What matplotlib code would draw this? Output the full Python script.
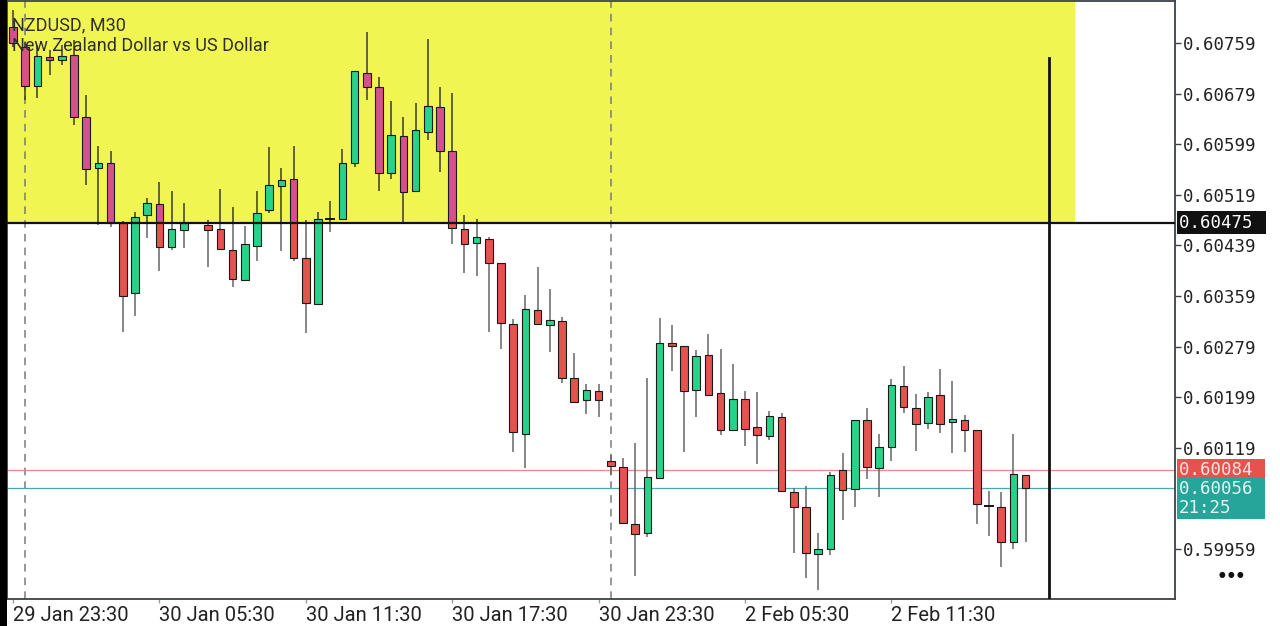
import matplotlib
matplotlib.use('Agg')
import matplotlib.pyplot as plt
from matplotlib.patches import Rectangle
from matplotlib.transforms import blended_transform_factory
import numpy as np
import pandas as pd

# NZDUSD M30 bars, 29 Jan 23:30 -> 30 Jan 23:30, then 2 Feb 00:00 -> 17:00
times = list(pd.date_range('2026-01-29 23:30', '2026-01-30 23:30', freq='30min')) + \
        list(pd.date_range('2026-02-02 00:00', periods=35, freq='30min'))

opens = [0.60784, 0.60753, 0.60691, 0.60737, 0.60732, 0.60740, 0.60642, 0.60561, 0.60569, 0.60475,
         0.60364, 0.60487, 0.60505, 0.60437, 0.60463, 0.60475, 0.60471, 0.60465, 0.60432, 0.60384,
         0.60438, 0.60495, 0.60533, 0.60544, 0.60419, 0.60346, 0.60481, 0.60481, 0.60569, 0.60712,
         0.60689, 0.60553, 0.60612, 0.60525, 0.60618, 0.60658, 0.60588, 0.60465, 0.60443, 0.60449,
         0.60411, 0.60315, 0.60141, 0.60337, 0.60313, 0.60320, 0.60229, 0.60195, 0.60209, 0.60098,
         0.60089, 0.59999, 0.59984, 0.60071, 0.60285, 0.60280, 0.60210, 0.60266, 0.60206, 0.60147,
         0.60196, 0.60152, 0.60138, 0.60168, 0.60049, 0.60025, 0.59951, 0.59959, 0.60084, 0.60054,
         0.60163, 0.60087, 0.60120, 0.60217, 0.60182, 0.60158, 0.60203, 0.60160, 0.60163, 0.60147,
         0.60027, 0.60025, 0.59970, 0.60076]
highs = [0.60811, 0.60761, 0.60756, 0.60748, 0.60756, 0.60764, 0.60677, 0.60596, 0.60588, 0.60478,
         0.60492, 0.60514, 0.60539, 0.60525, 0.60506, 0.60475, 0.60479, 0.60528, 0.60500, 0.60470,
         0.60525, 0.60595, 0.60561, 0.60596, 0.60479, 0.60492, 0.60509, 0.60591, 0.60715, 0.60776,
         0.60705, 0.60667, 0.60642, 0.60664, 0.60765, 0.60689, 0.60680, 0.60487, 0.60481, 0.60452,
         0.60411, 0.60323, 0.60361, 0.60405, 0.60370, 0.60326, 0.60269, 0.60220, 0.60220, 0.60108,
         0.60103, 0.60127, 0.60229, 0.60324, 0.60313, 0.60280, 0.60274, 0.60299, 0.60275, 0.60252,
         0.60209, 0.60207, 0.60177, 0.60174, 0.60055, 0.60059, 0.59984, 0.60081, 0.60111, 0.60163,
         0.60182, 0.60141, 0.60228, 0.60248, 0.60204, 0.60207, 0.60244, 0.60225, 0.60171, 0.60147,
         0.60051, 0.60049, 0.60141, 0.60076]
lows = [0.60753, 0.60669, 0.60672, 0.60708, 0.60724, 0.60629, 0.60535, 0.60471, 0.60468, 0.60302,
        0.60327, 0.60451, 0.60399, 0.60432, 0.60435, 0.60475, 0.60405, 0.60432, 0.60373, 0.60384,
        0.60414, 0.60490, 0.60430, 0.60414, 0.60301, 0.60346, 0.60460, 0.60481, 0.60563, 0.60669,
        0.60525, 0.60544, 0.60475, 0.60525, 0.60606, 0.60555, 0.60441, 0.60395, 0.60391, 0.60302,
        0.60275, 0.60112, 0.60087, 0.60315, 0.60270, 0.60222, 0.60190, 0.60172, 0.60168, 0.60076,
        0.60000, 0.59916, 0.59978, 0.60071, 0.60240, 0.60112, 0.60168, 0.60203, 0.60139, 0.60147,
        0.60122, 0.60093, 0.60131, 0.60051, 0.59953, 0.59913, 0.59894, 0.59950, 0.60005, 0.60025,
        0.60070, 0.60041, 0.60098, 0.60174, 0.60114, 0.60149, 0.60142, 0.60111, 0.60112, 0.59999,
        0.59980, 0.59931, 0.59959, 0.59970]
closes = [0.60759, 0.60691, 0.60738, 0.60732, 0.60738, 0.60642, 0.60560, 0.60569, 0.60475, 0.60359,
          0.60484, 0.60506, 0.60437, 0.60465, 0.60474, 0.60475, 0.60463, 0.60433, 0.60386, 0.60441,
          0.60490, 0.60535, 0.60542, 0.60419, 0.60348, 0.60481, 0.60481, 0.60569, 0.60715, 0.60689,
          0.60553, 0.60614, 0.60523, 0.60621, 0.60659, 0.60588, 0.60467, 0.60441, 0.60452, 0.60411,
          0.60316, 0.60144, 0.60338, 0.60315, 0.60321, 0.60229, 0.60191, 0.60210, 0.60195, 0.60090,
          0.60000, 0.59983, 0.60073, 0.60285, 0.60280, 0.60209, 0.60264, 0.60203, 0.60147, 0.60196,
          0.60149, 0.60139, 0.60169, 0.60051, 0.60025, 0.59953, 0.59959, 0.60076, 0.60052, 0.60163,
          0.60089, 0.60120, 0.60218, 0.60184, 0.60157, 0.60199, 0.60157, 0.60165, 0.60147, 0.60030,
          0.60027, 0.59970, 0.60078, 0.60056]

price_ticks = [0.60759, 0.60679, 0.60599, 0.60519, 0.60439, 0.60359, 0.60279, 0.60199, 0.60119, 0.59959]
zone_level = 0.60475      # drawn horizontal line / bottom of yellow zone
zone_end_bar = 87.05      # right edge of yellow zone (bar units)
vline_bar = 84.95         # vertical trendline
vline_top = 0.60735
ask = 0.60084
bid = 0.60056
countdown = '21:25'

BULL = '#27d38b'
BEAR = '#e4534d'
BEAR_ZONE = '#d5508c'
WICK = '#666666'
WICK_ZONE = '#3b3b2a'
ZONE = '#f1f552'

fig = plt.figure(figsize=(12.8, 6.26), dpi=100)
fig.patch.set_facecolor('white')
ax = fig.add_axes([7 / 1280, 27 / 626, 1168 / 1280, 598 / 626])
ax.set_facecolor('white')
ax.set_xlim(-0.49, 95.25)
ax.set_ylim(0.5987995, 0.6082540)
ylo, yhi = ax.get_ylim()
xlo, xhi = ax.get_xlim()

# yellow zone + lines
ax.add_patch(Rectangle((xlo, zone_level), zone_end_bar - xlo, yhi - zone_level,
                       facecolor=ZONE, edgecolor='none', zorder=0))
day_breaks = [i for i in range(1, len(times)) if times[i].date() != times[i - 1].date()]
for i in day_breaks:
    ax.axvline(i, color='#7a7a7a', lw=1.1, ls=(0, (5, 4)), zorder=1)
ax.axhline(zone_level, color='#111111', lw=1.6, zorder=4)
ax.axhline(ask, color='#e98a84', lw=0.9, zorder=1)
ax.axhline(bid, color='#4aa6b5', lw=0.9, zorder=1)
ax.plot([vline_bar, vline_bar], [ylo, vline_top], color='#111111', lw=2.0, zorder=4)

# candles
w = 0.62
for i, (o, h, l, c) in enumerate(zip(opens, highs, lows, closes)):
    # wick, darker where it sits over the zone
    if h > zone_level:
        ax.plot([i, i], [max(l, zone_level), h], color=WICK_ZONE, lw=1.1, zorder=2,
                solid_capstyle='butt')
    if l < zone_level:
        ax.plot([i, i], [l, min(h, zone_level)], color=WICK, lw=1.1, zorder=2,
                solid_capstyle='butt')
    lo_b, hi_b = min(o, c), max(o, c)
    if hi_b - lo_b < 1e-6:
        ax.plot([i - w / 2, i + w / 2], [o, o], color='#111111', lw=1.4, zorder=3)
        continue
    if c > o:
        ax.add_patch(Rectangle((i - w / 2, lo_b), w, hi_b - lo_b, facecolor=BULL,
                               edgecolor='none', zorder=3))
    else:
        if lo_b < zone_level:
            ax.add_patch(Rectangle((i - w / 2, lo_b), w, min(hi_b, zone_level) - lo_b,
                                   facecolor=BEAR, edgecolor='none', zorder=3))
        if hi_b > zone_level:
            b = max(lo_b, zone_level)
            ax.add_patch(Rectangle((i - w / 2, b), w, hi_b - b,
                                   facecolor=BEAR_ZONE, edgecolor='none', zorder=3))
    ax.add_patch(Rectangle((i - w / 2, lo_b), w, hi_b - lo_b, facecolor='none',
                           edgecolor='#1a1a1a', lw=0.8, zorder=3.5))

# axes styling
for s in ax.spines.values():
    s.set_color('#3c4248')
    s.set_linewidth(1.3)
ax.yaxis.tick_right()
ax.set_yticks(price_ticks)
ax.set_yticklabels([f'{p:.5f}' for p in price_ticks], family='DejaVu Sans Mono',
                   fontsize=12.5, color='#222222')
ax.tick_params(axis='y', direction='out', length=4, width=1, color='#3c4248', pad=2)

tick_pos = list(range(0, len(times), 12))
ax.set_xticks(tick_pos)
ax.set_xticklabels([f"{times[i].day} {times[i].strftime('%b %H:%M')}" for i in tick_pos],
                   family='Roboto', fontsize=14.5, color='#222222', ha='left')
ax.tick_params(axis='x', direction='out', length=3, width=1, color='#9a9a9a', pad=2)

# price labels on the right scale
bt = blended_transform_factory(ax.transAxes, ax.transData)
mono = dict(family='DejaVu Sans Mono', fontsize=12.5)
ax.annotate(f'{zone_level:.5f} ', xy=(1, zone_level), xycoords=bt, xytext=(3, 0),
            textcoords='offset points', va='center', ha='left', color='white',
            bbox=dict(boxstyle='square,pad=0.14', fc='#111111', ec='none'), **mono)
ax.annotate(f'{ask:.5f} ', xy=(1, ask), xycoords=bt, xytext=(3, 0),
            textcoords='offset points', va='center', ha='left', color='#fbe3e1',
            bbox=dict(boxstyle='square,pad=0.1', fc='#e4534d', ec='none'), **mono)
ax.annotate(f'{bid:.5f} \n{countdown}', xy=(1, bid), xycoords=bt, xytext=(3, -8),
            textcoords='offset points', va='center', ha='left', color='#e6f6f4',
            linespacing=1.05, multialignment='left',
            bbox=dict(boxstyle='square,pad=0.12', fc='#26a69a', ec='none'), **mono)

# symbol caption
ax.text(5 / 1168, 1 - 24 / 598, 'NZDUSD, M30', transform=ax.transAxes,
        family='Roboto', fontsize=13, color='#2e2e2e', va='center', ha='left', zorder=6)
ax.text(5 / 1168, 1 - 45 / 598, 'New Zealand Dollar vs US Dollar', transform=ax.transAxes,
        family='Roboto', fontsize=13, color='#2e2e2e', va='center', ha='left', zorder=6)

# left black edge and menu dots
fig.patches.append(Rectangle((0, 0), 7 / 1280, 1, transform=fig.transFigure,
                             facecolor='black', edgecolor='none'))
fig.text(1231 / 1280, 1 - 575 / 626, '\u25cf \u25cf \u25cf', fontsize=5.5, color='#111111',
         ha='center', va='center')

fig.savefig('out.png', dpi=100)
